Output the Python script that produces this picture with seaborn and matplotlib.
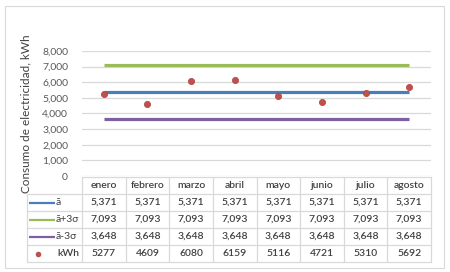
import matplotlib.pyplot as plt
import seaborn as sns
import pandas as pd
from matplotlib.patches import Rectangle
from matplotlib.ticker import FuncFormatter

# datos
meses = ['enero', 'febrero', 'marzo', 'abril', 'mayo', 'junio', 'julio', 'agosto']
media = [5371, 5371, 5371, 5371, 5371, 5371, 5371, 5371]
media_mas = [7093, 7093, 7093, 7093, 7093, 7093, 7093, 7093]
media_menos = [3648, 3648, 3648, 3648, 3648, 3648, 3648, 3648]
kwh = [5277, 4609, 6080, 6159, 5116, 4721, 5310, 5692]

df = pd.DataFrame({'i': range(len(meses)), 'mes': meses, 'media': media,
                   'mas': media_mas, 'menos': media_menos, 'kwh': kwh})

sns.set_style('white')
plt.rcParams['font.family'] = ['Lato', 'DejaVu Sans']

azul, verde, morado, rojo = '#4A7EBB', '#9BBB59', '#7E5FA2', '#C0504D'
gris_txt = '#595959'
gris_lin = '#D9D9D9'

W, H = 450, 272
fig = plt.figure(figsize=(4.5, 2.72), dpi=100)
fig.patches.append(Rectangle((5 / W, 1 - 268 / H), 439 / W, 262 / H, transform=fig.transFigure,
                             fill=False, edgecolor=gris_lin, lw=0.8))

# grafico principal
ax = fig.add_axes([82 / W, 1 - 176 / H, (431 - 82) / W, (176 - 51) / H])
for col, c in [('mas', verde), ('media', azul), ('menos', morado)]:
    sns.lineplot(data=df, x='i', y=col, color=c, lw=2.3, ax=ax, solid_capstyle='butt')
sns.scatterplot(data=df, x='i', y='kwh', color=rojo, edgecolor='#B0403D', s=20, lw=0.5, ax=ax, zorder=5)
ax.set_xlim(-0.5, 7.5)
ax.set_ylim(0, 8000)
ax.set_yticks(range(0, 8001, 1000))
ax.yaxis.set_major_formatter(FuncFormatter(lambda v, p: f'{int(v):,}'))
ax.set_xticks([])
ax.set_xlabel('')
ax.set_ylabel('Consumo de electricidad, kWh', fontsize=8.5, color='#404040', labelpad=8)
ax.tick_params(axis='y', length=0, labelsize=7.5, labelcolor=gris_txt, pad=10)
ax.yaxis.grid(True, color=gris_lin, lw=0.9)
ax.set_axisbelow(True)
for s in ax.spines.values():
    s.set_visible(False)

# tabla de datos
colw = (431 - 82) / 8
x0 = -0.5 - 55 / colw
tab = fig.add_axes([27 / W, 1 - 262 / H, (431 - 27) / W, 85 / H])
tab.set_xlim(x0, 7.5)
tab.set_ylim(5, 0)
tab.axis('off')
kw = dict(color=gris_lin, lw=0.9, clip_on=False)
tab.plot([-0.5, 7.5], [0, 0], **kw)
for r in range(1, 6):
    tab.plot([x0, 7.5], [r, r], **kw)
for k in range(9):
    tab.plot([k - 0.5, k - 0.5], [0, 5], **kw)
tab.plot([x0, x0], [1, 5], **kw)

txt = dict(ha='center', va='center', fontsize=7.5, color='#404040', fontweight='semibold')
filas = [(media, azul, 'ā'), (media_mas, verde, 'ā+3σ'), (media_menos, morado, 'ā-3σ')]
for j, m in enumerate(meses):
    tab.text(j, 0.5, m, **txt)
for r, (vals, c, lab) in enumerate(filas, start=1):
    for j, v in enumerate(vals):
        tab.text(j, r + 0.5, f'{v:,}', **txt)
    tab.plot([x0 + 2 / colw, x0 + 28 / colw], [r + 0.5, r + 0.5], color=c, lw=1.6, solid_capstyle='butt')
    tab.text(x0 + 29 / colw, r + 0.5, lab, ha='left', va='center', fontsize=7.5, color='#404040')
for j, v in enumerate(kwh):
    tab.text(j, 4.5, str(v), **txt)
tab.scatter([x0 + 11 / colw], [4.5], color=rojo, s=12, edgecolor='#B0403D', lw=0.5)
tab.text(x0 + 30 / colw, 4.5, 'kWh', ha='left', va='center', fontsize=7.5, color='#404040', fontweight='semibold')

fig.savefig('out.png', dpi=100, facecolor='white')
